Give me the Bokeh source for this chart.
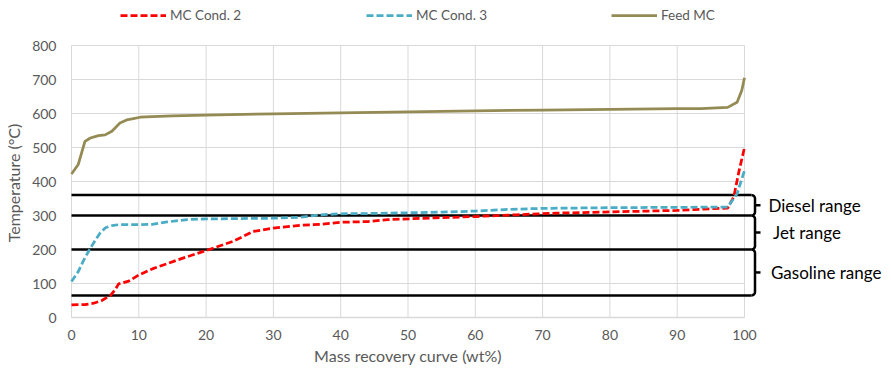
import numpy as np
from bokeh.plotting import figure
from bokeh.models import Range1d, FixedTicker, Legend, LegendItem, Label
from bokeh.core.properties import value
from bokeh.embed import file_html
from bokeh.resources import INLINE

# ---------------- data ----------------
feed_x = [0, 1, 2, 2.8, 4, 5, 6, 7.2, 8.2, 9, 10.2, 12, 15, 20, 30, 40, 50, 60, 70, 80, 90, 93.5, 97.5, 98.9, 99.6, 100]
feed_y = [422, 450, 518, 528, 535, 537, 548, 572, 581, 584, 589, 591, 593, 595, 599, 602, 605, 608, 610, 612, 614, 614, 618, 633, 668, 705]

c2_x = [0, 2, 3.3, 4.5, 5.8, 6.5, 7, 8.5, 10, 12, 16, 20, 24, 27, 30, 34, 37, 40, 44, 47, 54, 60, 66, 72, 79, 90, 97.5, 98.4, 99.2, 100]
c2_y = [37, 38, 42, 50, 65, 82, 99, 107, 125, 143, 171, 197, 224, 253, 263, 271, 274, 280, 282, 288, 293, 297, 302, 307, 310, 315, 322, 354, 432, 500]

c3_x = [0, 1, 1.8, 2.6, 3.5, 4.3, 5.05, 6, 7, 10, 12, 14.2, 17.2, 20, 25, 30, 34, 37, 40, 45, 50, 55, 60, 65, 70, 80, 90, 97.5, 98.9, 100]
c3_y = [106, 135, 168, 197, 226, 250, 264, 270, 273, 273, 274, 281, 288, 290, 291, 292, 295, 302, 305, 306, 308, 310, 313, 318, 321, 323, 324, 325, 364, 432]

series_names = ["MC Cond. 2", "MC Cond. 3", "Feed MC"]

range_names = ["Diesel range", "Jet range", "Gasoline range"]
range_lo = [300, 200, 65]
range_hi = [360, 300, 200]

x_ticks = list(range(0, 101, 10))
y_ticks = list(range(0, 801, 100))
x_title = "Mass recovery curve (wt%)"
y_title = "Temperature (°C)"

# ---------------- layout constants ----------------
FONT = "Lato"
GREY_TXT = "#595959"
GRID = "#d9d9d9"
W, H = 883, 365
PIX_X0 = 71             # pixel column of x = 0
FRAME_L = 61            # frame starts a little left of x = 0
PIX_Y800, PIX_Y0 = 45, 317   # pixel rows of y = 800 and y = 0
PX_X = 6.73             # pixels per x unit
px_y = (PIX_Y0 - PIX_Y800) / 800.0
x_start = -(PIX_X0 - FRAME_L) / PX_X
x_end = (W - PIX_X0) / PX_X
y_top = 800 + PIX_Y800 / px_y
y_bot = -(H - PIX_Y0) / px_y

p = figure(width=W, height=H, output_backend="svg", toolbar_location=None,
           x_range=Range1d(x_start, x_end), y_range=Range1d(y_bot, y_top),
           min_border=0, min_border_left=FRAME_L)
p.outline_line_color = None
p.background_fill_color = "white"
p.border_fill_color = "white"
p.xgrid.grid_line_color = None
p.ygrid.grid_line_color = None

# x axis drawn at y = 0 inside the frame
p.xaxis.fixed_location = 0
p.xaxis.ticker = FixedTicker(ticks=x_ticks)
p.xaxis.bounds = (0, 100)
p.xaxis.axis_line_color = GRID
p.xaxis.axis_line_width = 1.3
p.xaxis.major_tick_line_color = None
p.xaxis.minor_tick_line_color = None
p.xaxis.major_tick_out = 0
p.xaxis.major_tick_in = 0
p.xaxis.major_label_standoff = 12
p.xaxis.major_label_text_font = FONT
p.xaxis.major_label_text_font_size = "14px"
p.xaxis.major_label_text_color = GREY_TXT

p.yaxis.ticker = FixedTicker(ticks=y_ticks)
p.yaxis.axis_line_color = None
p.yaxis.major_tick_line_color = None
p.yaxis.minor_tick_line_color = None
p.yaxis.major_tick_out = 0
p.yaxis.major_tick_in = 0
p.yaxis.major_label_standoff = 5
p.yaxis.major_label_text_font = FONT
p.yaxis.major_label_text_font_size = "14px"
p.yaxis.major_label_text_color = GREY_TXT
p.yaxis.axis_label = y_title
p.yaxis.axis_label_text_font = FONT
p.yaxis.axis_label_text_font_size = "16px"
p.yaxis.axis_label_text_font_style = "normal"
p.yaxis.axis_label_text_color = GREY_TXT
p.yaxis.axis_label_standoff = 6

# gridlines (limited to the 0-100 / 0-800 plotting box)
p.segment(x0=x_ticks, y0=[0] * len(x_ticks), x1=x_ticks, y1=[800] * len(x_ticks),
          line_color=GRID, line_width=1)
hy = y_ticks[1:]
p.segment(x0=[0] * len(hy), y0=hy, x1=[100] * len(hy), y1=hy,
          line_color=GRID, line_width=1)

# range lines and brackets
bx = (754.5 - PIX_X0) / PX_X     # bracket x in data units
rx = 3.5 / PX_X
ry = 3.5 / px_y
bounds = sorted(set(range_lo + range_hi))
p.segment(x0=[0] * len(bounds), y0=bounds, x1=[bx - rx] * len(bounds), y1=bounds,
          line_color="black", line_width=2.5)

t = np.linspace(0, np.pi / 2, 8)
bxs, bys, tx0, tx1, tys = [], [], [], [], []
for lo, hi in zip(range_lo, range_hi):
    top_x = list(bx - rx + rx * np.sin(t))
    top_y = list(hi - ry + ry * np.cos(t))
    bot_x = list(bx - rx + rx * np.cos(t))
    bot_y = list(lo + ry - ry * np.sin(t))
    bxs.append(top_x + bot_x)
    bys.append(top_y + bot_y)
    mid = (lo + hi) / 2
    tx0.append(bx)
    tx1.append(bx + 5.5 / PX_X)
    tys.append(mid)
p.multi_line(xs=bxs, ys=bys, line_color="black", line_width=2.5)
p.segment(x0=tx0, y0=tys, x1=tx1, y1=tys, line_color="black", line_width=2.5)

lab_off = [13.5, 18.0, 16.0]
p.text(x=[bx + o / PX_X for o in lab_off],
       y=[(lo + hi) / 2 for lo, hi in zip(range_lo, range_hi)],
       text=range_names, text_font=value(FONT), text_font_size="17px",
       text_baseline="middle", text_align="left", text_color="black")

# curves
r_c2 = p.line(c2_x, c2_y, line_color="#FF0000", line_width=2.75, line_dash="7 3")
r_c3 = p.line(c3_x, c3_y, line_color="#4BACC6", line_width=2.75, line_dash="7 3")
r_feed = p.line(feed_x, feed_y, line_color="#948A54", line_width=2.75)

# x-axis title
p.add_layout(Label(x=50, y=-(355 - PIX_Y0) / px_y, x_units="data", y_units="data",
                   text=x_title, text_font=FONT, text_font_size="16px",
                   text_color=GREY_TXT, text_align="center", text_baseline="middle"))

# legends, one per item, placed individually at the top of the frame
for r, name, px0 in zip([r_c2, r_c3, r_feed], series_names, [120, 366, 611]):
    lg = Legend(items=[LegendItem(label=name, renderers=[r])],
                location=(px0 - FRAME_L, H - 24), orientation="horizontal",
                padding=0, margin=0, border_line_color=None,
                background_fill_alpha=0, glyph_width=46, glyph_height=18,
                label_height=18, label_standoff=4, label_text_font=FONT,
                label_text_font_size="13.5px", label_text_color=GREY_TXT)
    p.add_layout(lg)

open("out.html", "w").write(file_html(p, INLINE))
